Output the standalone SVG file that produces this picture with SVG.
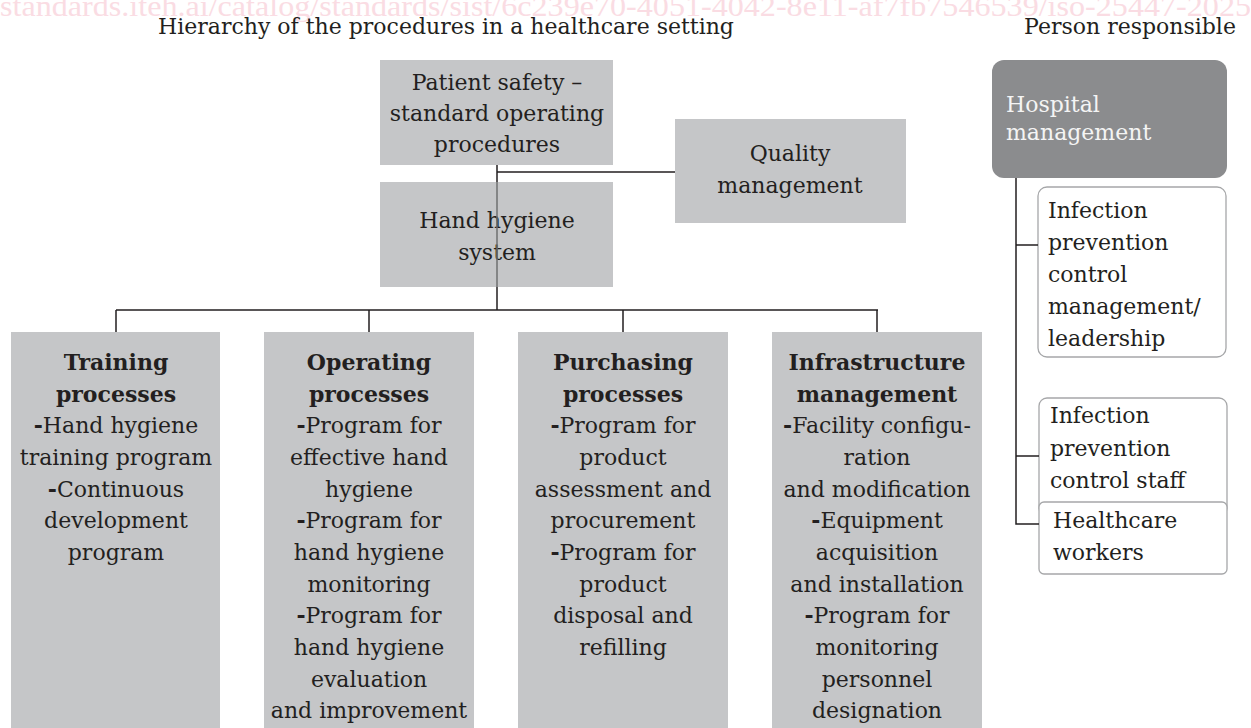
<svg xmlns="http://www.w3.org/2000/svg" width="1251" height="728" viewBox="0 0 1251 728">
<style>
text{font-family:"DejaVu Serif","Liberation Serif",serif;fill:#231f20;font-size:22px}
.c{text-anchor:middle}
.b{font-weight:bold}
.box{fill:#c5c6c8}
.rb{fill:#fff;stroke:#a6a7a9;stroke-width:1.3}
.ln{stroke:#231f20;stroke-width:1.5;fill:none}
.wm{font-family:"Liberation Serif",serif;fill:#fadce3;font-size:30px}
</style>
<rect width="1251" height="728" fill="#fff"/>
<text class="wm" x="0" y="16" textLength="1251" lengthAdjust="spacingAndGlyphs">standards.iteh.ai/catalog/standards/sist/6c239e70-4051-4042-8e11-af7fb7546539/iso-25447-2025</text>
<text class="c" x="446" y="34">Hierarchy of the procedures in a healthcare setting</text>
<text class="c" x="1130" y="34">Person responsible</text>

<g id="patient-safety">
<rect class="box" x="380" y="60" width="233" height="105"/>
<text class="c" x="497" y="90">Patient safety –</text>
<text class="c" x="497" y="121">standard operating</text>
<text class="c" x="497" y="152">procedures</text>
</g>
<g id="quality">
<rect class="box" x="675" y="119" width="231" height="104"/>
<text class="c" x="790" y="161">Quality</text>
<text class="c" x="790" y="193">management</text>
</g>
<g id="hand-hygiene">
<rect class="box" x="380" y="182" width="233" height="105"/>
<text class="c" x="497" y="228">Hand hygiene</text>
<text class="c" x="497" y="260">system</text>
</g>

<g id="training">
<rect class="box" x="11" y="332" width="209" height="400"/>
<text class="c" x="116"><tspan class="b" x="116" y="370">Training</tspan><tspan class="b" x="116" y="402">processes</tspan><tspan x="116" y="433"><tspan class="b">-</tspan>Hand hygiene</tspan><tspan x="116" y="465">training program</tspan><tspan x="116" y="497"><tspan class="b">-</tspan>Continuous</tspan><tspan x="116" y="528">development</tspan><tspan x="116" y="560">program</tspan></text>
</g>
<g id="operating">
<rect class="box" x="264" y="332" width="210" height="400"/>
<text class="c" x="369"><tspan class="b" x="369" y="370">Operating</tspan><tspan class="b" x="369" y="402">processes</tspan><tspan x="369" y="433"><tspan class="b">-</tspan>Program for</tspan><tspan x="369" y="465">effective hand</tspan><tspan x="369" y="497">hygiene</tspan><tspan x="369" y="528"><tspan class="b">-</tspan>Program for</tspan><tspan x="369" y="560">hand hygiene</tspan><tspan x="369" y="592">monitoring</tspan><tspan x="369" y="623"><tspan class="b">-</tspan>Program for</tspan><tspan x="369" y="655">hand hygiene</tspan><tspan x="369" y="687">evaluation</tspan><tspan x="369" y="718">and improvement</tspan></text>
</g>
<g id="purchasing">
<rect class="box" x="518" y="332" width="210" height="400"/>
<text class="c" x="623"><tspan class="b" x="623" y="370">Purchasing</tspan><tspan class="b" x="623" y="402">processes</tspan><tspan x="623" y="433"><tspan class="b">-</tspan>Program for</tspan><tspan x="623" y="465">product</tspan><tspan x="623" y="497">assessment and</tspan><tspan x="623" y="528">procurement</tspan><tspan x="623" y="560"><tspan class="b">-</tspan>Program for</tspan><tspan x="623" y="592">product</tspan><tspan x="623" y="623">disposal and</tspan><tspan x="623" y="655">refilling</tspan></text>
</g>
<g id="infrastructure">
<rect class="box" x="772" y="332" width="210" height="400"/>
<text class="c" x="877"><tspan class="b" x="877" y="370">Infrastructure</tspan><tspan class="b" x="877" y="402">management</tspan><tspan x="877" y="433"><tspan class="b">-</tspan>Facility configu-</tspan><tspan x="877" y="465">ration</tspan><tspan x="877" y="497">and modification</tspan><tspan x="877" y="528"><tspan class="b">-</tspan>Equipment</tspan><tspan x="877" y="560">acquisition</tspan><tspan x="877" y="592">and installation</tspan><tspan x="877" y="623"><tspan class="b">-</tspan>Program for</tspan><tspan x="877" y="655">monitoring</tspan><tspan x="877" y="687">personnel</tspan><tspan x="877" y="718">designation</tspan></text>
</g>

<g id="hospital-management">
<rect x="992" y="60" width="235" height="118" rx="12" fill="#8b8c8e"/>
<text x="1006" y="112" style="fill:#f4f4f4">Hospital</text>
<text x="1006" y="140" style="fill:#f4f4f4">management</text>
</g>
<g id="ipc-management">
<rect class="rb" x="1038" y="187" width="188" height="170" rx="9"/>
<text x="1048"><tspan x="1048" y="218">Infection</tspan><tspan x="1048" y="250">prevention</tspan><tspan x="1048" y="282">control</tspan><tspan x="1048" y="314">management/</tspan><tspan x="1048" y="346">leadership</tspan></text>
</g>
<g id="ipc-staff">
<rect class="rb" x="1039" y="398" width="188" height="118" rx="8"/>
<text x="1050"><tspan x="1050" y="423">Infection</tspan><tspan x="1050" y="456">prevention</tspan><tspan x="1050" y="488">control staff</tspan></text>
</g>
<g id="healthcare-workers">
<rect class="rb" x="1039" y="502" width="188" height="72" rx="5"/>
<text x="1053"><tspan x="1053" y="528">Healthcare</tspan><tspan x="1053" y="560">workers</tspan></text>
</g>

<g id="connectors">
<path class="ln" d="M497 165V182M497 287V310M497 172H675"/>
<path d="M497 182V287" stroke="#6e6f71" stroke-width="1.5"/>
<path class="ln" d="M116 310H878M116 310V332M369 310V332M623 310V332M877 310V332"/>
<path class="ln" d="M1016 178V524H1039M1016 245H1038M1016 456H1039"/>
</g>
</svg>
